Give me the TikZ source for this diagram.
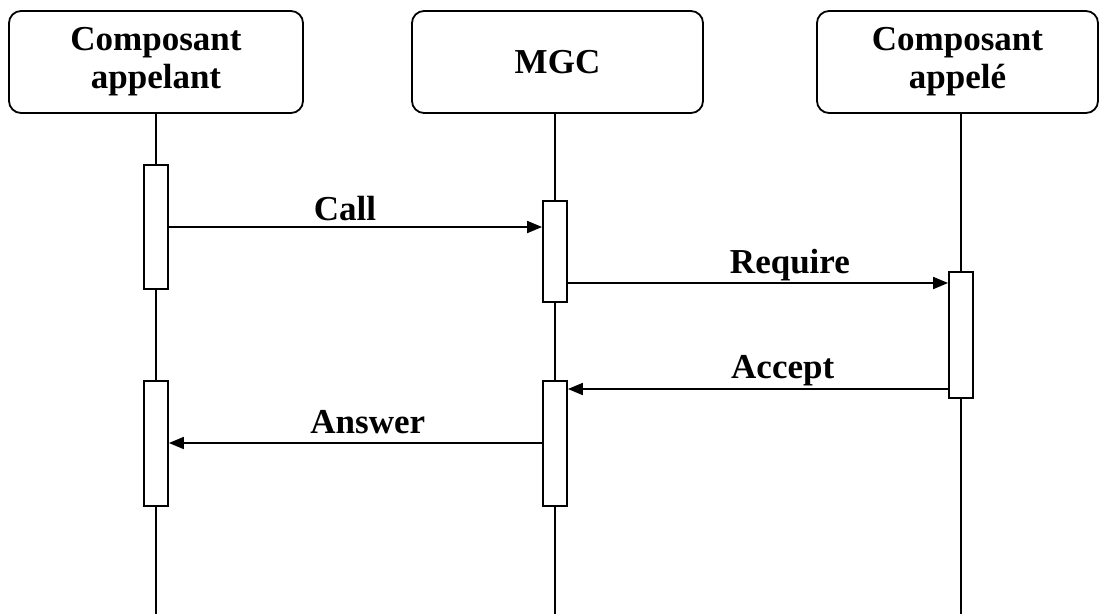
\documentclass[tikz,border=0pt]{standalone}
\usepackage{fontspec}
\setmainfont{Liberation Serif}
\usetikzlibrary{arrows.meta}
\begin{document}
\begin{tikzpicture}[x=1pt,y=-1pt,
  every node/.style={font=\bfseries\fontsize{35}{38}\selectfont, inner sep=0pt},
  header/.style={draw, line width=1.8pt, rounded corners=12pt, minimum height=102pt, align=center},
  life/.style={line width=1.8pt},
  act/.style={draw, fill=white, line width=1.8pt, minimum width=24pt},
  msg/.style={line width=1.8pt, -{Triangle[length=15pt,width=12pt]}},
  lbl/.style={anchor=base}
]
\useasboundingbox (0,0) rectangle (1101,614);
% headers
\node[header, minimum width=294pt] (h1) at (156,62) {Composant\\appelant};
\node[header, minimum width=291pt] (h2) at (557.5,62) {MGC};
\node[header, minimum width=281pt] (h3) at (957.5,62) {Composant\\appel\'e};
% lifeline ends
\coordinate (e1) at (156,614);
\coordinate (e2) at (555,614);
\coordinate (e3) at (961,614);
\draw[life] (h1.south -| e1) -- (e1);
\draw[life] (h2.south -| e2) -- (e2);
\draw[life] (h3.south -| e3) -- (e3);
% activations
\node[act, minimum height=124pt] (a1) at (156,227) {};
\node[act, minimum height=101pt] (m1) at (555,251.5) {};
\node[act, minimum height=126pt] (c1) at (961,335) {};
\node[act, minimum height=125pt] (m2) at (555,443.5) {};
\node[act, minimum height=125pt] (a2) at (156,443.5) {};
% messages
\draw[msg] (a1.east) -- (a1.east -| m1.west)
  node[lbl, pos=0.472, yshift=7pt] {Call};
\draw[msg] (m1.east |- 0,283) -- (c1.west |- 0,283)
  node[lbl, pos=0.584, yshift=10pt] {Require};
\draw[msg] (c1.west |- 0,389) -- (m2.east |- 0,389)
  node[lbl, pos=0.435, yshift=11pt] {Accept};
\draw[msg] (m2.west |- 0,443) -- (a2.east |- 0,443)
  node[lbl, pos=0.467, yshift=10pt] {Answer};
\end{tikzpicture}
\end{document}
